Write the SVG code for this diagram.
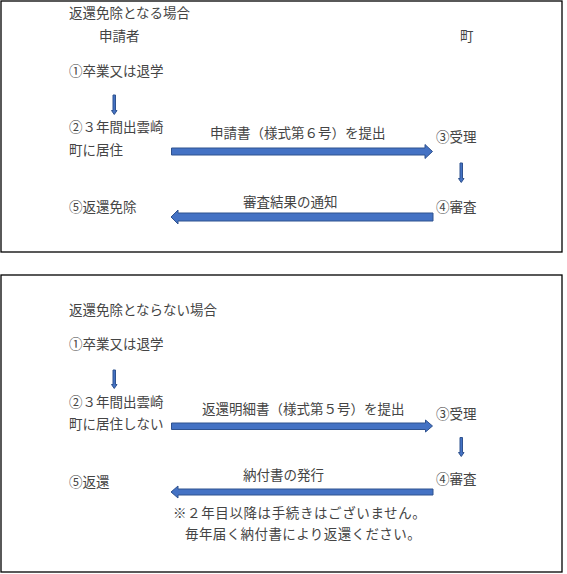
<svg xmlns="http://www.w3.org/2000/svg" width="567" height="574" viewBox="0 0 567 574">
<style>
.frame{fill:#fff;stroke:#000;stroke-width:1.3}
.t{font-family:"Noto Sans CJK JP","Noto Sans",sans-serif;font-size:13.5px;fill:#444}
.ba{fill:#4472C4;stroke:#2F528F;stroke-width:1}
</style>
<rect x="0" y="0" width="567" height="574" fill="#fff"/>
<g id="panel-1">
<rect class="frame" x="1" y="1" width="561" height="251"/>
<text class="t" x="69" y="18">返還免除となる場合</text>
<text class="t" x="99" y="41">申請者</text>
<text class="t" x="460" y="41">町</text>
</g>
<g id="n1-step1"><text class="t" x="69" y="76">①卒業又は退学</text></g>
<g id="n1-step2"><text class="t" x="69" y="132">②３年間出雲崎</text><text class="t" x="69" y="155">町に居住</text></g>
<g id="n1-step3"><text class="t" x="436" y="142">③受理</text></g>
<g id="n1-step4"><text class="t" x="436" y="212">④審査</text></g>
<g id="n1-step5"><text class="t" x="69" y="212">⑤返還免除</text></g>
<g id="panel-2">
<rect class="frame" x="1" y="275" width="561" height="297"/>
<text class="t" x="69" y="315">返還免除とならない場合</text>
</g>
<g id="n2-step1"><text class="t" x="69" y="349">①卒業又は退学</text></g>
<g id="n2-step2"><text class="t" x="69" y="407">②３年間出雲崎</text><text class="t" x="69" y="429">町に居住しない</text></g>
<g id="n2-step3"><text class="t" x="436" y="419">③受理</text></g>
<g id="n2-step4"><text class="t" x="436" y="484">④審査</text></g>
<g id="n2-step5"><text class="t" x="69" y="487">⑤返還</text></g>
<g id="note">
<text class="t" x="173" y="518" letter-spacing="0.6">※２年目以降は手続きはございません。</text>
<text class="t" x="185" y="539" letter-spacing="0.4">毎年届く納付書により返還ください。</text>
</g>
<g id="connectors">
<polygon class="ba" points="113,95 115.5,95 115.5,110.5 117,110.5 114.25,114.5 111.5,110.5 113,110.5"/>
<polygon class="ba" points="460,163 462.5,163 462.5,178.5 464,178.5 461.25,182.5 458.5,178.5 460,178.5"/>
<polygon class="ba" points="113,370 115.5,370 115.5,384.5 117,384.5 114.25,388.5 111.5,384.5 113,384.5"/>
<polygon class="ba" points="460,437.5 462.5,437.5 462.5,452.5 464,452.5 461.25,456.5 458.5,452.5 460,452.5"/>
<polygon class="ba" points="171.5,148 425,148 425,144.5 432.5,151.5 425,158.5 425,155 171.5,155"/>
<text class="t" x="210" y="138">申請書（様式第６号）を提出</text>
<polygon class="ba" points="433,213 178,213 178,210 171,217 178,224 178,221 433,221"/>
<text class="t" x="243" y="207">審査結果の通知</text>
<polygon class="ba" points="171.5,423 425.5,423 425.5,420 432.5,426 425.5,432 425.5,429.5 171.5,429.5"/>
<text class="t" x="202" y="414">返還明細書（様式第５号）を提出</text>
<polygon class="ba" points="433,489 178,489 178,486 171,492 178,498 178,495 433,495"/>
<text class="t" x="243" y="480">納付書の発行</text>
</g>
</svg>
